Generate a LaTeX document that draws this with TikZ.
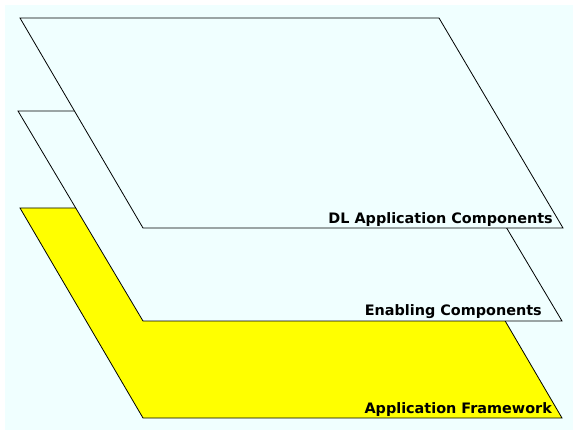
\documentclass[tikz,border=0pt]{standalone}
\usepackage{fontspec}
\setmainfont{DejaVu Sans}
\definecolor{skyback}{RGB}{240,255,255}
\definecolor{layeryellow}{RGB}{255,255,0}
\begin{document}
\begin{tikzpicture}[x=1pt,y=-1pt,
  layer/.style={draw=black,line width=0.8pt,line join=miter},
  layername/.style={anchor=base east,inner sep=0pt,font=\bfseries\fontsize{14.4}{17}\selectfont}]
  % canvas
  \useasboundingbox (0,0) rectangle (573,430);
  \fill[white] (0,0) rectangle (573,430);
  \fill[skyback] (5,5) rectangle (573,430);
  % bottom layer
  \draw[layer,fill=layeryellow] (20,208) -- (439,208) -- (562,418) -- (143,418) -- cycle;
  % middle layer
  \draw[layer,fill=skyback] (18,111) -- (437,111) -- (562,321) -- (143,321) -- cycle;
  % top layer
  \draw[layer,fill=skyback] (20,18) -- (439,18) -- (563,228) -- (143,228) -- cycle;
  % layer names
  \node[layername] (dl) at (553,224) {DL Application Components};
  \node[layername] (en) at (542,316) {Enabling Components};
  \node[layername] (af) at (552,413) {Application Framework};
\end{tikzpicture}
\end{document}
